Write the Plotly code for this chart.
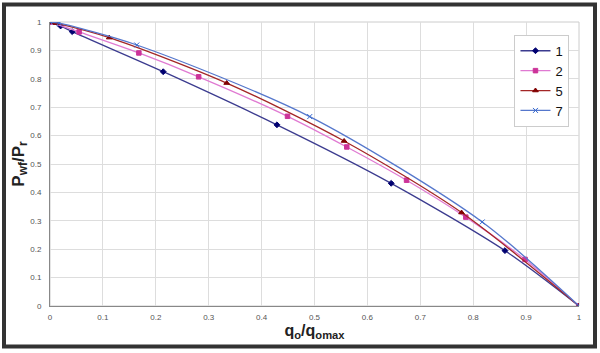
import plotly.graph_objects as go

# Data
x1 = [0, 0.02, 0.042, 0.214, 0.429, 0.645, 0.86, 1.0]
y1 = [1.0, 0.986, 0.966, 0.825, 0.638, 0.432, 0.195, 0.0]

x2 = [0, 0.055, 0.168, 0.281, 0.449, 0.561, 0.674, 0.786, 0.898, 1.0]
y2 = [1.0, 0.965, 0.891, 0.807, 0.668, 0.560, 0.443, 0.313, 0.164, 0.0]

x5 = [0, 0.011, 0.112, 0.334, 0.556, 0.778, 1.0]
y5 = [1.0, 0.996, 0.945, 0.785, 0.581, 0.329, 0.0]

x7 = [0, 0.017, 0.164, 0.491, 0.817, 1.0]
y7 = [1.0, 0.996, 0.919, 0.667, 0.296, 0.0]

tick_vals = [0, 0.1, 0.2, 0.3, 0.4, 0.5, 0.6, 0.7, 0.8, 0.9, 1]
tick_text = ["0", "0.1", "0.2", "0.3", "0.4", "0.5", "0.6", "0.7", "0.8", "0.9", "1"]

names = ["1", "2", "5", "7"]
line_colors = ["#3b3b8f", "#e07ad2", "#a32626", "#5577cc"]
marker_colors = ["#000070", "#cc3399", "#800000", "#3366cc"]
symbols = ["diamond", "square", "triangle-up", "x-thin"]
sizes = [4.5, 4.5, 5, 5]

fig = go.Figure()
for xs, ys, nm, lc, mc, sym, sz in zip([x1, x2, x5, x7], [y1, y2, y5, y7], names,
                                       line_colors, marker_colors, symbols, sizes):
    fig.add_trace(go.Scatter(
        x=xs, y=ys, name=nm, mode="lines+markers",
        line=dict(color=lc, width=1.3, shape="spline", smoothing=0.8),
        marker=dict(symbol=sym, color=mc, size=sz,
                    line=dict(color=mc, width=1)),
    ))

tickfont = dict(family="Liberation Sans, Arial", size=8, color="#555555")
grid = "#dddddd"

fig.update_layout(
    width=600, height=353,
    margin=dict(l=50, r=21, t=22, b=47),
    paper_bgcolor="white", plot_bgcolor="white",
    showlegend=True,
    legend=dict(x=0.982, y=0.955, xanchor="right", yanchor="top",
                bgcolor="white", bordercolor="#cccccc", borderwidth=1,
                font=dict(family="Liberation Sans, Arial", size=13, color="#111111"),
                itemwidth=30, tracegroupgap=0),
    xaxis=dict(range=[0, 1], tickvals=tick_vals, ticktext=tick_text,
               showgrid=True, gridcolor=grid, gridwidth=1,
               showline=True, linecolor="#888888", linewidth=1, mirror=False,
               zeroline=False, ticks="", tickfont=tickfont, ticklabelstandoff=3,
               title=dict(text="<b>q<sub>o</sub>/q<sub>omax</sub></b>",
                          font=dict(family="Liberation Sans, Arial", size=16, color="#222222"),
                          standoff=3)),
    yaxis=dict(range=[0, 1], tickvals=tick_vals, ticktext=tick_text,
               showgrid=True, gridcolor=grid, gridwidth=1,
               showline=True, linecolor="#888888", linewidth=1,
               zeroline=False, ticks="", tickfont=tickfont, ticklabelstandoff=6,
               title=dict(text="<b>P<sub>wf</sub>/P<sub>r</sub></b>",
                          font=dict(family="Liberation Sans, Arial", size=17, color="#222222"),
                          standoff=1)),
)

# plot-area right/top border (light grey)
fig.add_shape(type="rect", xref="paper", yref="paper", x0=0, y0=0, x1=1, y1=1,
              line=dict(color="#cccccc", width=1), layer="below")
# outer dark frame
fig.add_shape(type="rect", xref="paper", yref="paper",
              x0=(4 - 50) / 529, x1=(595 - 50) / 529,
              y0=(306 - 346.5) / 284, y1=(306 - 4.5) / 284,
              line=dict(color="#333333", width=4))

fig.write_html("out.html")
